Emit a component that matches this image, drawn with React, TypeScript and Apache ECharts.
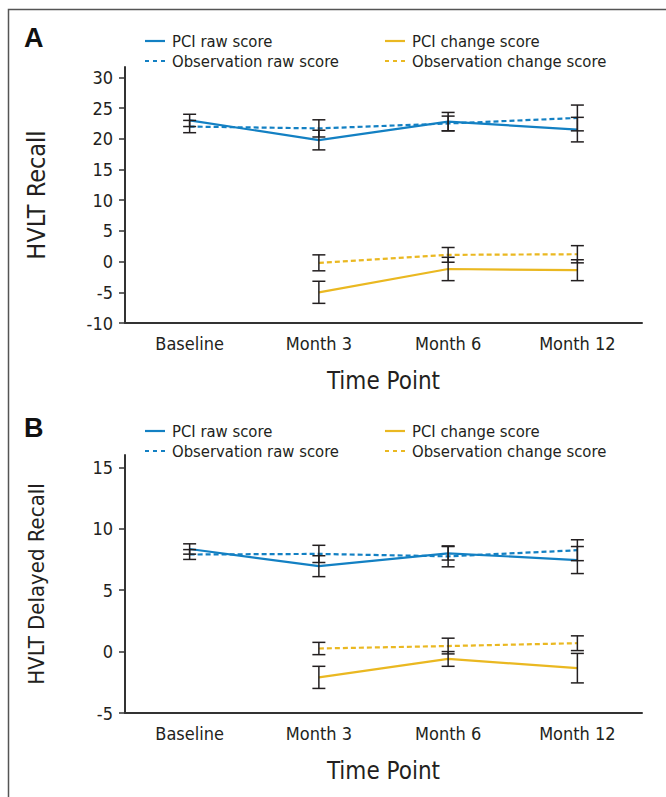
import React, { useEffect, useRef } from "react";
import * as echarts from "echarts";

const categories = ["Baseline", "Month 3", "Month 6", "Month 12"];
const legendNames = ["PCI raw score", "Observation raw score", "PCI change score", "Observation change score"];

// Panel A: HVLT Recall
const recallPciRaw = [23.0, 19.8, 22.8, 21.5];
const recallPciRawErr = [1.0, 1.6, 1.5, 2.0];
const recallObsRaw = [22.0, 21.7, 22.5, 23.4];
const recallObsRawErr = [1.0, 1.4, 1.2, 2.1];
const recallPciChange = [null, -5.0, -1.2, -1.4];
const recallPciChangeErr = [null, 1.8, 1.9, 1.7];
const recallObsChange = [null, -0.2, 1.1, 1.2];
const recallObsChangeErr = [null, 1.3, 1.2, 1.4];
const recallTicks = [-10, -5, 0, 5, 10, 15, 20, 25, 30];

// Panel B: HVLT Delayed Recall
const delayedPciRaw = [8.35, 6.95, 8.0, 7.45];
const delayedPciRawErr = [0.42, 0.85, 0.55, 1.1];
const delayedObsRaw = [7.9, 7.95, 7.75, 8.25];
const delayedObsRawErr = [0.4, 0.7, 0.85, 0.85];
const delayedPciChange = [null, -2.1, -0.6, -1.35];
const delayedPciChangeErr = [null, 0.9, 0.6, 1.2];
const delayedObsChange = [null, 0.25, 0.45, 0.68];
const delayedObsChangeErr = [null, 0.5, 0.64, 0.6];
const delayedTicks = [-5, 0, 5, 10, 15];

const BLUE = "#1380c3";
const YELLOW = "#eab821";
const INK = "#231f20";
const FONT = "'Liberation Sans Narrow', 'Arial Narrow', 'DejaVu Sans Condensed', 'Liberation Sans', Arial, sans-serif";

const seriesColors = [BLUE, BLUE, YELLOW, YELLOW];
const seriesDashed = [false, true, false, true];

function errData(vals: (number | null)[], errs: (number | null)[]) {
  const out: any[] = [];
  vals.forEach((v, i) => {
    const e = errs[i];
    if (v != null && e != null) out.push([i, v - e, v + e]);
  });
  return out;
}

function lineSeries(k: number, data: (number | null)[], gi: number) {
  const color = seriesColors[k];
  return {
    type: "line",
    name: legendNames[k],
    data,
    xAxisIndex: gi,
    yAxisIndex: gi,
    symbol: "none",
    showSymbol: false,
    connectNulls: false,
    color,
    lineStyle: { color, width: 2.2, type: seriesDashed[k] ? [5, 3] : "solid" },
    z: 2,
  };
}

function errSeries(vals: (number | null)[], errs: (number | null)[], gi: number) {
  return {
    type: "custom",
    xAxisIndex: gi,
    yAxisIndex: gi,
    data: errData(vals, errs),
    encode: { x: 0, y: [1, 2] },
    z: 5,
    silent: true,
    renderItem: (params: any, api: any) => {
      const lo = api.coord([api.value(0), api.value(1)]);
      const hi = api.coord([api.value(0), api.value(2)]);
      const w = 6.5;
      const style = { stroke: INK, lineWidth: 1.5, fill: "none" };
      return {
        type: "group",
        children: [
          { type: "line", shape: { x1: lo[0], y1: lo[1], x2: hi[0], y2: hi[1] }, style },
          { type: "line", shape: { x1: lo[0] - w, y1: lo[1], x2: lo[0] + w, y2: lo[1] }, style },
          { type: "line", shape: { x1: hi[0] - w, y1: hi[1], x2: hi[0] + w, y2: hi[1] }, style },
        ],
      };
    },
  };
}

function xAxis(gi: number) {
  return {
    type: "category",
    gridIndex: gi,
    data: categories,
    boundaryGap: true,
    axisLine: { onZero: false, lineStyle: { color: "#333", width: 2 } },
    axisTick: { length: 5, lineStyle: { color: "#333", width: 1.5 } },
    axisLabel: { color: INK, fontSize: 18, fontFamily: FONT, margin: 11 },
    name: "Time Point",
    nameLocation: "middle",
    nameGap: 46,
    nameTextStyle: { color: INK, fontSize: 24, fontFamily: FONT },
    splitLine: { show: false },
  };
}

function yAxis(gi: number, name: string, min: number, max: number, ticks: number[], nameSize: number, nameGap: number) {
  return {
    type: "value",
    gridIndex: gi,
    min,
    max,
    axisLine: { show: true, onZero: false, lineStyle: { color: "#333", width: 2 } },
    axisTick: { show: true, length: 6, customValues: ticks, lineStyle: { color: "#333", width: 1.5 } },
    axisLabel: { color: INK, fontSize: 18, fontFamily: FONT, margin: 12, customValues: ticks },
    splitLine: { show: false },
    name,
    nameLocation: "middle",
    nameRotate: 90,
    nameGap,
    nameTextStyle: { color: INK, fontSize: nameSize, fontFamily: FONT },
  };
}

function legendGraphic(row1: number) {
  const cols = [145, 385];
  const out: any[] = [];
  legendNames.forEach((name, k) => {
    const x = cols[Math.floor(k / 2)];
    const y = row1 + (k % 2) * 20;
    out.push({
      type: "line",
      shape: { x1: x, y1: y, x2: x + 20, y2: y },
      style: { stroke: seriesColors[k], lineWidth: 2.2, lineDash: seriesDashed[k] ? [4, 4] : null },
      silent: true,
    });
    out.push({
      type: "text",
      x: x + 27,
      y,
      style: { text: name, fontSize: 16.5, fontFamily: FONT, fill: INK, verticalAlign: "middle", align: "left" },
      silent: true,
    });
  });
  return out;
}

export default function App() {
  const ref = useRef<HTMLDivElement>(null);
  useEffect(() => {
    if (!ref.current) return;
    const chart = echarts.init(ref.current, null, { renderer: "svg" });
    chart.setOption({
      animation: false,
      backgroundColor: "#ffffff",
      textStyle: { fontFamily: FONT },
      grid: [
        { left: 125, top: 67, width: 517, height: 256 },
        { left: 125, top: 455, width: 517, height: 258 },
      ],
      xAxis: [xAxis(0), xAxis(1)],
      yAxis: [
        yAxis(0, "HVLT Recall", -10, 31.7, recallTicks, 25, 76),
        yAxis(1, "HVLT Delayed Recall", -5, 16, delayedTicks, 22, 78),
      ],
      series: [
        lineSeries(0, recallPciRaw, 0),
        lineSeries(1, recallObsRaw, 0),
        lineSeries(2, recallPciChange, 0),
        lineSeries(3, recallObsChange, 0),
        errSeries(recallPciRaw, recallPciRawErr, 0),
        errSeries(recallObsRaw, recallObsRawErr, 0),
        errSeries(recallPciChange, recallPciChangeErr, 0),
        errSeries(recallObsChange, recallObsChangeErr, 0),
        lineSeries(0, delayedPciRaw, 1),
        lineSeries(1, delayedObsRaw, 1),
        lineSeries(2, delayedPciChange, 1),
        lineSeries(3, delayedObsChange, 1),
        errSeries(delayedPciRaw, delayedPciRawErr, 1),
        errSeries(delayedObsRaw, delayedObsRawErr, 1),
        errSeries(delayedPciChange, delayedPciChangeErr, 1),
        errSeries(delayedObsChange, delayedObsChangeErr, 1),
      ],
      graphic: [
        {
          type: "polyline",
          shape: { points: [[8.5, 800], [8.5, 9.5], [670, 9.5]] },
          style: { stroke: "#555", lineWidth: 1.5, fill: "none" },
          silent: true,
        },
        {
          type: "text",
          x: 24,
          y: 38,
          style: { text: "A", fontSize: 27, fontWeight: "bold", fill: "#111", verticalAlign: "middle", fontFamily: "'Liberation Sans', Arial, sans-serif" },
        },
        {
          type: "text",
          x: 24,
          y: 428,
          style: { text: "B", fontSize: 27, fontWeight: "bold", fill: "#111", verticalAlign: "middle", fontFamily: "'Liberation Sans', Arial, sans-serif" },
        },
        ...legendGraphic(41),
        ...legendGraphic(431),
      ],
    });
    return () => chart.dispose();
  }, []);
  return (
    <div
      ref={ref}
      style={{ position: "fixed", left: 0, top: 0, width: 666, height: 797, background: "#fff" }}
    />
  );
}
